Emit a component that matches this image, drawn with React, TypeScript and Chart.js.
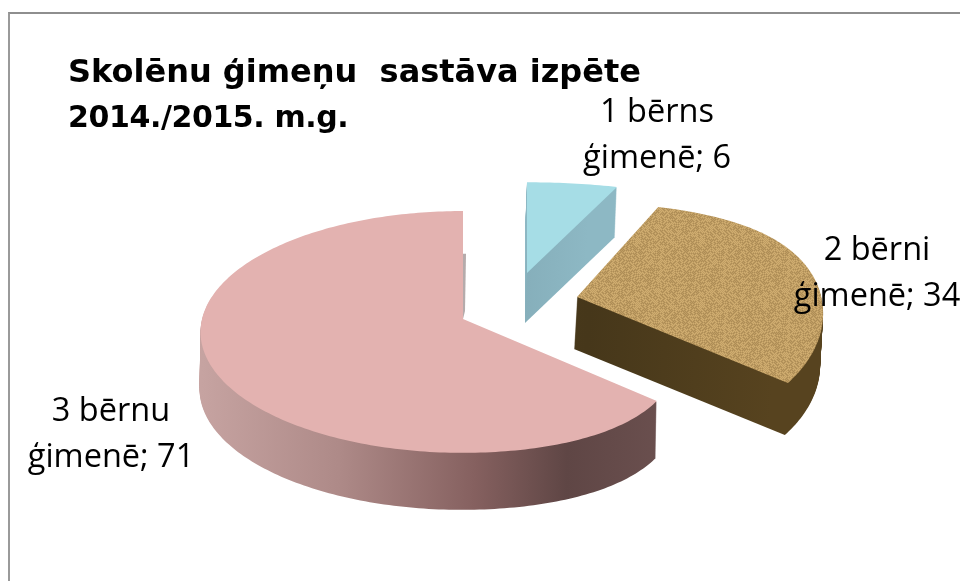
import React, { useEffect, useRef } from "react";
import { Chart, registerables } from "chart.js";

Chart.register(...registerables);

const categories = ["1 bērns ģimenē", "2 bērni ģimenē", "3 bērnu ģimenē"];
const values = [6, 34, 71];
const faceColors = ["#A6DDE6", "#BF9D63", "#E3B2B0"];
const titleLines = ["Skolēnu ģimeņu  sastāva izpēte", "2014./2015. m.g."];

// squash + perspective of the disc
const TILT = 0.458;
const PERSP = 0.107;
// slice placement: explode vector, per-slice scale, wall height
const sliceLook = [
  { dx: 64, dy: -46, sx: 1.14, sy: 0.84, py: 0.107, taper: 0, depth: 50, lean: -2, sliver: 0 },
  { dx: 114, dy: -22, sx: 1.04, sy: 0.966, py: 0.2225, taper: 0.1, depth: 52, lean: -3, sliver: 0 },
  { dx: 0, dy: 0, sx: 1, sy: 1, py: 0.107, taper: 0.17, depth: 57, lean: -1, sliver: 3 },
];
const wallStops = [
  [[0, "#8DB8C4"], [1, "#7FA6B2"]],
  [[0, "#54441F"], [0.6, "#46371A"], [1, "#57431F"]],
  [[0, "#C6A3A1"], [0.3, "#AE8A88"], [0.6, "#85605F"], [0.8, "#5F4645"], [1, "#6A4F4E"]],
];
const labelPlaces = [
  { lines: ["1 bērns", "ģimenē; 6"], x: 657, y: 122 },
  { lines: ["2 bērni", "ģimenē; 34"], x: 877, y: 260 },
  { lines: ["3 bērnu", "ģimenē; 71"], x: 111, y: 421 },
];

function speckle(ctx: CanvasRenderingContext2D) {
  const c = document.createElement("canvas");
  c.width = 64;
  c.height = 64;
  const p = c.getContext("2d")!;
  p.fillStyle = "#BF9D63";
  p.fillRect(0, 0, 64, 64);
  for (let y = 0; y < 64; y++) {
    for (let x = 0; x < 64; x++) {
      const h = Math.sin(x * 12.9898 + y * 78.233) * 43758.5453;
      const n = h - Math.floor(h);
      if ((x + y) % 2 === 0) {
        p.fillStyle = n > 0.5 ? "rgba(225,190,125,0.5)" : "rgba(140,110,60,0.32)";
        p.fillRect(x, y, 1, 1);
      }
    }
  }
  return ctx.createPattern(c, "repeat")!;
}

const pie3d = {
  id: "pie3d",
  beforeDatasetDraw(chart: any, args: any) {
    const ctx: CanvasRenderingContext2D = chart.ctx;
    const arcs = chart.getDatasetMeta(args.index).data;
    arcs.forEach((arc: any, i: number) => {
      const { x, y, startAngle, endAngle, outerRadius: R } = arc.getProps(
        ["x", "y", "startAngle", "endAngle", "outerRadius"],
        true
      );
      const look = sliceLook[i];
      const project = (u: number, v: number) => {
        const tu = u > 0 ? u * (1 - look.taper * u * u) : u;
        return [
          x + look.dx + (R * look.sx * tu) / (1 - PERSP * v),
          y + look.dy + (R * TILT * look.sy * v) / (1 - look.py * v),
        ];
      };
      const face = new Path2D();
      const apex = project(0, 0);
      face.moveTo(apex[0], apex[1]);
      const steps = Math.ceil(((endAngle - startAngle) * 180) / Math.PI);
      for (let s = 0; s <= steps; s++) {
        const a = startAngle + ((endAngle - startAngle) * s) / steps;
        const q = project(Math.cos(a), Math.sin(a));
        face.lineTo(q[0], q[1]);
      }
      face.closePath();

      if (i === 0) {
        const g0 = ctx.createLinearGradient(0, y + look.dy - 60, 0, y + look.dy + 60);
        wallStops[i].forEach(([o, c]: any) => g0.addColorStop(o, c));
        ctx.fillStyle = g0;
      } else {
        const g = ctx.createLinearGradient(x + look.dx - R, 0, x + look.dx + R * 0.75, 0);
        wallStops[i].forEach(([o, c]: any) => g.addColorStop(o, c));
        ctx.fillStyle = g;
      }
      for (let d = look.depth; d >= 1; d--) {
        ctx.save();
        ctx.translate((look.lean * d) / look.depth, d);
        ctx.fill(face);
        ctx.restore();
      }
      if (look.sliver) {
        const c = Math.cos(endAngle);
        const s = Math.sin(endAngle);
        const e = project(c * 0.58, s * 0.58);
        ctx.fillStyle = "#B5ABAB";
        ctx.beginPath();
        ctx.moveTo(e[0], e[1]);
        ctx.lineTo(e[0] + look.sliver, e[1]);
        ctx.lineTo(apex[0] + look.sliver - 1, apex[1] - 8);
        ctx.lineTo(apex[0], apex[1]);
        ctx.closePath();
        ctx.fill();
      }
      ctx.fillStyle = i === 1 ? speckle(ctx) : arc.options.backgroundColor;
      ctx.fill(face);
    });
    return false;
  },
  afterDraw(chart: any) {
    const ctx: any = chart.ctx;
    ctx.save();
    ctx.fillStyle = "#000";
    ctx.textAlign = "center";
    ctx.textBaseline = "alphabetic";
    ctx.font = "32.5px 'Open Sans'";
    labelPlaces.forEach((l) => {
      l.lines.forEach((t: string, k: number) => ctx.fillText(t, l.x, l.y + k * 46));
    });
    ctx.textAlign = "left";
    ctx.font = "bold 32px 'DejaVu Sans'";
    ctx.fillText(titleLines[0], 68, 82);
    ctx.font = "bold 30px 'DejaVu Sans'";
    ctx.letterSpacing = "-0.4px";
    ctx.fillText(titleLines[1], 68, 127);
    ctx.restore();
  },
};

export default function App() {
  const ref = useRef<HTMLCanvasElement>(null);
  useEffect(() => {
    document.body.style.margin = "0";
    document.body.style.background = "#fff";
    const chart = new Chart(ref.current!, {
      type: "pie",
      data: {
        labels: categories,
        datasets: [{ data: values, backgroundColor: faceColors, borderWidth: 0 }],
      },
      options: {
        responsive: false,
        animation: false,
        layout: { padding: { left: 202, right: 236, top: 58, bottom: 1 } },
        plugins: { legend: { display: false }, title: { display: false }, tooltip: { enabled: false } },
      },
      plugins: [pie3d],
    } as any);
    return () => chart.destroy();
  }, []);
  return (
    <div style={{ position: "relative", width: 960, height: 581, background: "#fff", overflow: "hidden" }}>
      <canvas ref={ref} width={960} height={581} style={{ display: "block", filter: "blur(0.5px)" }} />
      <div style={{ position: "absolute", left: 8, top: 12, width: 952, height: 569, borderTop: "2px solid #8E8E8E", borderLeft: "2px solid #9A9A9A", boxSizing: "border-box", pointerEvents: "none" }} />
    </div>
  );
}
